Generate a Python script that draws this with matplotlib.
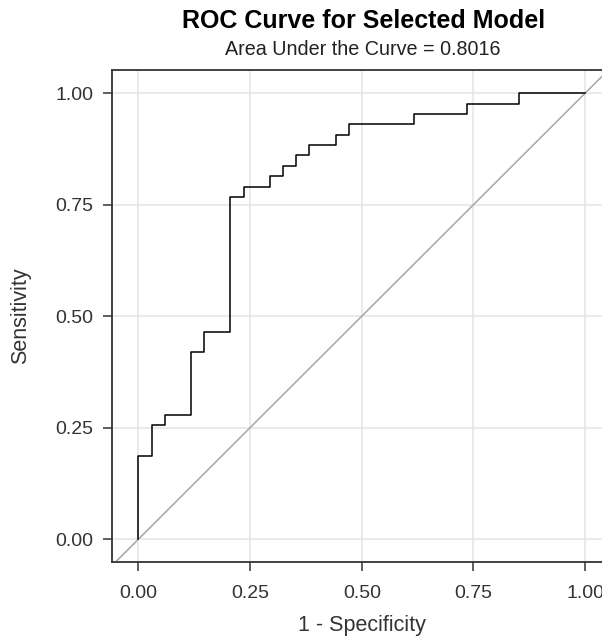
"""
ROC curve for the selected model (SAS style)
"""

import numpy as np
import matplotlib.pyplot as plt

# counts: 34 negatives, 43 positives
n_neg = 34
n_pos = 43
fp_counts = [0, 0, 1, 1, 2, 2, 4, 4, 5, 5, 7, 7, 8, 8, 10, 10, 11, 11, 12, 12,
             13, 13, 15, 15, 16, 16, 21, 21, 25, 25, 29, 29, 34]
tp_counts = [0, 8, 8, 11, 11, 12, 12, 18, 18, 20, 20, 33, 33, 34, 34, 35, 35, 36, 36, 37,
             37, 38, 38, 39, 39, 40, 40, 41, 41, 42, 42, 43, 43]
auc_text = 'Area Under the Curve = 0.8016'
ticks = [0.0, 0.25, 0.5, 0.75, 1.0]

fpr = np.array(fp_counts) / n_neg
tpr = np.array(tp_counts) / n_pos

plt.rcParams['font.family'] = ['Liberation Sans', 'DejaVu Sans']

fig = plt.figure(figsize=(6.02, 6.38), dpi=100)
# the right side of the plot is cut off by the figure edge, as in the original
ax = fig.add_axes([0.1855, 0.1186, 0.831, 0.7717])

ax.plot([-1, 2], [-1, 2], color='#a6a6a6', lw=1.1, zorder=2)
ax.plot(fpr, tpr, color='black', lw=1.1, zorder=3)

ax.set_xlim(-0.06, 1.06)
ax.set_ylim(-0.052, 1.052)
ax.set_xticks(ticks)
ax.set_yticks(ticks)
ax.set_xticklabels([f'{t:.2f}' for t in ticks])
ax.set_yticklabels([f'{t:.2f}' for t in ticks])
ax.tick_params(length=6.5, width=1.1, color='#333333', labelsize=14,
               labelcolor='#333333')
ax.tick_params(axis='x', pad=9.5)
ax.tick_params(axis='y', pad=6.5)
ax.grid(True, color='#e4e4e4', lw=1.1, zorder=0)
ax.set_axisbelow(True)
for s in ax.spines.values():
    s.set_color('#333333')
    s.set_linewidth(1.3)

ax.set_xlabel('1 - Specificity', fontsize=15.5, color='#333333', labelpad=10)
ax.set_ylabel('Sensitivity', fontsize=15.5, color='#333333', labelpad=18)

fig.text(0.604, 1 - 28 / 638, 'ROC Curve for Selected Model', ha='center', va='baseline',
         fontsize=18, fontweight='bold')
fig.text(0.603, 1 - 55 / 638, auc_text, ha='center', va='baseline', fontsize=14.2,
         color='#222222')

fig.savefig('out.png', dpi=100)
